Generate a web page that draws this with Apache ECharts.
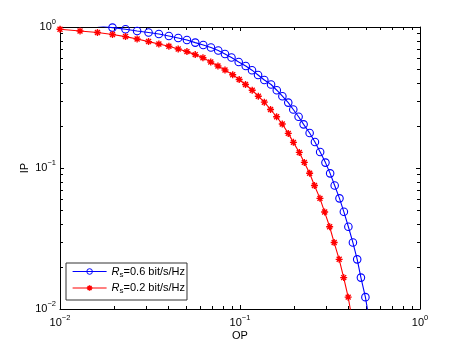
<!DOCTYPE html>
<html><head><meta charset="utf-8">
<script src="https://cdn.jsdelivr.net/npm/echarts@6/dist/echarts.min.js"></script>
<style>html,body{margin:0;padding:0;background:#fff}#c{width:464px;height:348px}</style>
</head><body><div id="c"></div>
<script>
// Blue series: R_s = 0.6 bit/s/Hz
const blueOP = [0.0162, 0.01957, 0.02312, 0.02682, 0.03104, 0.03542, 0.04026, 0.04536, 0.05072, 0.0564,
  0.06249, 0.06897, 0.07572, 0.08253, 0.08968, 0.09835, 0.1076, 0.1166, 0.126, 0.1365,
  0.1488, 0.1601, 0.172, 0.1854, 0.1977, 0.2116, 0.2256, 0.2437, 0.2608, 0.2788,
  0.2984, 0.3168, 0.3357, 0.357, 0.3776, 0.400, 0.4239, 0.4478, 0.4696, 0.4974, 0.519];
const blueIP = [1.02, 0.990, 0.963, 0.937, 0.913, 0.892, 0.864, 0.836, 0.809, 0.775,
  0.746, 0.715, 0.681, 0.644, 0.607, 0.565, 0.529, 0.494, 0.457, 0.421,
  0.391, 0.356, 0.323, 0.291, 0.260, 0.231, 0.204, 0.177, 0.153, 0.130,
  0.1092, 0.0916, 0.0751, 0.0609, 0.0489, 0.0383, 0.0296, 0.0225, 0.0167, 0.01214, 0.00879];
// Red series: R_s = 0.2 bit/s/Hz
const redOP = [0.01, 0.01292, 0.01615, 0.01957, 0.02312, 0.02682, 0.03104, 0.03542, 0.04026, 0.04536,
  0.05072, 0.0564, 0.06225, 0.0688, 0.07543, 0.08253, 0.09109, 0.09897, 0.1073, 0.1169,
  0.1264, 0.1365, 0.1478, 0.1597, 0.1717, 0.1854, 0.198, 0.2135, 0.2277, 0.2437,
  0.2592, 0.2781, 0.2953, 0.3148, 0.3335, 0.3556, 0.3767, 0.399, 0.4173];
const redIP = [0.963, 0.937, 0.913, 0.884, 0.855, 0.822, 0.788, 0.758, 0.730, 0.699,
  0.669, 0.637, 0.605, 0.565, 0.529, 0.495, 0.459, 0.424, 0.391, 0.356,
  0.323, 0.293, 0.260, 0.231, 0.205, 0.176, 0.152, 0.129, 0.1096, 0.0917,
  0.0751, 0.0609, 0.0487, 0.0383, 0.0296, 0.0225, 0.0167, 0.01214, 0.00879];
const seriesRates = ['0.6', '0.2'];
const seriesColors = ['#0000ff', '#ff0000'];
const tickValues = [0.01, 0.1, 1];
const tickExponents = ['\u22122', '\u22121', '0'];
const minorMultipliers = [2, 3, 4, 5, 6, 7, 8, 9];

const FONT = 'Liberation Sans, Arial, Helvetica, sans-serif';
const supRich = {
  b: {fontSize: 11, fontFamily: FONT, color: '#000', lineHeight: 18},
  s: {fontSize: 7.5, fontFamily: FONT, color: '#000', lineHeight: 8, verticalAlign: 'top'}
};
function fmt(v) {
  let idx = 0, best = 1e9;
  tickValues.forEach((t, i) => { const d = Math.abs(Math.log10(v) - Math.log10(t)); if (d < best) { best = d; idx = i; } });
  return '{b|10}{s|' + tickExponents[idx] + '}';
}
const axisCommon = {
  type: 'log', logBase: 10, min: 0.01, max: 1,
  axisLine: {show: true, lineStyle: {color: '#000', width: 1}},
  axisTick: {show: true, inside: true, length: 4, lineStyle: {color: '#000'}},
  splitLine: {show: false}, minorTick: {show: false}
};
const names = seriesRates.map(r => 'Rs' + r);
const chart = echarts.init(document.getElementById('c'), null, {renderer: 'canvas'});
const asterisk = 'path://M0,-10L0,10M-10,0L10,0M-7.07,-7.07L7.07,7.07M-7.07,7.07L7.07,-7.07';
chart.setOption({
  animation: false,
  backgroundColor: '#fff',
  grid: {left: 60, right: 44, top: 27, bottom: 39, containLabel: false},
  xAxis: [
    Object.assign({}, axisCommon, {position: 'bottom', name: 'OP', nameLocation: 'middle', nameGap: 21,
      nameMoveOverlap: false,
      nameTextStyle: {fontSize: 11, fontFamily: FONT, color: '#000'},
      axisLabel: {show: true, margin: 5, formatter: fmt, rich: supRich}}),
    Object.assign({}, axisCommon, {position: 'top', axisLabel: {show: false}})
  ],
  yAxis: [
    Object.assign({}, axisCommon, {position: 'left', name: 'IP', nameLocation: 'middle', nameGap: 30,
      nameMoveOverlap: false,
      nameTextStyle: {fontSize: 11, fontFamily: FONT, color: '#000'},
      axisLabel: {show: true, margin: 4, formatter: fmt, rich: supRich}}),
    Object.assign({}, axisCommon, {position: 'right', axisLabel: {show: false}})
  ],
  legend: {
    show: true, orient: 'vertical', left: 66, top: 263,
    backgroundColor: '#fff', borderColor: '#333', borderWidth: 1,
    padding: [3, 2, 5, 6], itemGap: 4, itemWidth: 34, itemHeight: 7,
    data: names.map((n, i) => ({
      name: n,
      lineStyle: {color: seriesColors[i], width: 1.2},
      itemStyle: i === 0
        ? {color: 'rgba(255,255,255,0)', borderColor: seriesColors[i], borderWidth: 1}
        : {color: seriesColors[i], borderColor: seriesColors[i], borderWidth: 1.4}
    })),
    formatter: function (name) {
      const r = seriesRates[names.indexOf(name)];
      return '{i|R}{sub|s}{t|=' + r + ' bit/s/Hz}';
    },
    textStyle: {
      rich: {
        i: {fontSize: 11, fontFamily: FONT, fontStyle: 'italic', color: '#000', lineHeight: 14},
        sub: {fontSize: 8, fontFamily: FONT, color: '#000', lineHeight: 8, verticalAlign: 'bottom'},
        t: {fontSize: 11, fontFamily: FONT, color: '#000', lineHeight: 14}
      }
    }
  },
  series: [
    {
      name: names[0], type: 'line', clip: true,
      data: blueOP.map((x, i) => [x, blueIP[i]]),
      symbol: 'circle', symbolSize: 7.5,
      lineStyle: {color: seriesColors[0], width: 1.1},
      itemStyle: {color: 'rgba(255,255,255,0)', borderColor: seriesColors[0], borderWidth: 1.1},
      emphasis: {disabled: true}
    },
    {
      name: names[1], type: 'line', clip: true,
      data: redOP.map((x, i) => [x, redIP[i]]),
      symbol: asterisk, symbolSize: 7,
      lineStyle: {color: seriesColors[1], width: 1.1},
      itemStyle: {color: seriesColors[1], borderColor: seriesColors[1], borderWidth: 1.4},
      emphasis: {disabled: true}
    }
  ]
});

// Minor log ticks (2..9 in each decade) on all four sides, placed through the axes' scales
const g = [];
const yBottom = chart.convertToPixel({yAxisIndex: 0}, 0.01);
const yTop = chart.convertToPixel({yAxisIndex: 0}, 1);
const xLeft = chart.convertToPixel({xAxisIndex: 0}, 0.01);
const xRight = chart.convertToPixel({xAxisIndex: 0}, 1);
const L = 3;
[0.01, 0.1].forEach(d => minorMultipliers.forEach(k => {
  const v = d * k;
  const px = Math.round(chart.convertToPixel({xAxisIndex: 0}, v)) + 0.5;
  g.push({type: 'line', silent: true, shape: {x1: px, y1: yBottom, x2: px, y2: yBottom - L}, style: {stroke: '#000', lineWidth: 1}});
  g.push({type: 'line', silent: true, shape: {x1: px, y1: yTop, x2: px, y2: yTop + L}, style: {stroke: '#000', lineWidth: 1}});
  const py = Math.round(chart.convertToPixel({yAxisIndex: 0}, v)) + 0.5;
  g.push({type: 'line', silent: true, shape: {x1: xLeft, y1: py, x2: xLeft + L, y2: py}, style: {stroke: '#000', lineWidth: 1}});
  g.push({type: 'line', silent: true, shape: {x1: xRight, y1: py, x2: xRight - L, y2: py}, style: {stroke: '#000', lineWidth: 1}});
}));
chart.setOption({graphic: g});
</script></body></html>
